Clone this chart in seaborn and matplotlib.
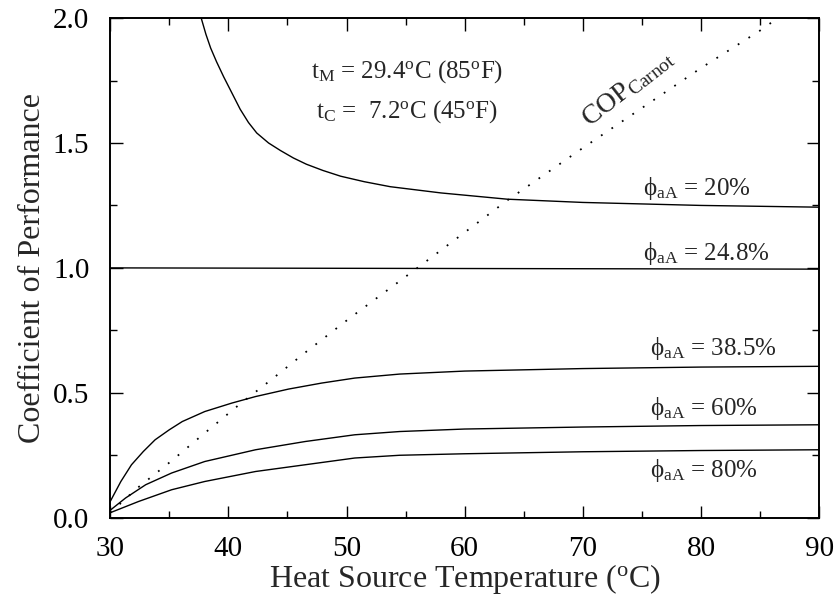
import matplotlib
matplotlib.use("Agg")
import matplotlib.pyplot as plt
import seaborn as sns
import pandas as pd

# Temperatures (deg C) and COP values
T_20 = [37.7, 38.1, 38.5, 39.0, 39.6, 40.3, 41.0, 41.7, 42.4, 43.4, 44.4, 45.5, 46.6,
        48.0, 49.5, 51.5, 53.7, 58, 63.6, 70, 80, 90]
COP_20 = [2.0, 1.935, 1.88, 1.825, 1.765, 1.70, 1.635, 1.582, 1.54, 1.50, 1.47, 1.44, 1.415,
          1.39, 1.367, 1.345, 1.325, 1.30, 1.275, 1.262, 1.25, 1.243]

T_248 = [30, 90]
COP_248 = [1.0, 0.995]

T_385 = [30, 30.9, 31.8, 32.8, 33.8, 35.0, 36.1, 38.0, 40.3, 42.3, 45.1, 47.9, 50.7,
         54.5, 60, 70, 80, 90]
COP_385 = [0.065, 0.145, 0.212, 0.265, 0.312, 0.352, 0.385, 0.425, 0.459, 0.485, 0.515,
           0.539, 0.559, 0.575, 0.587, 0.597, 0.603, 0.606]

T_60 = [30, 31.3, 33.0, 35.2, 38.0, 42.3, 46.5, 50.7, 54.5, 60, 70, 80, 90]
COP_60 = [0.03, 0.079, 0.132, 0.179, 0.225, 0.272, 0.305, 0.332, 0.345, 0.355, 0.363, 0.369, 0.372]

T_80 = [30, 32.4, 35.2, 38.0, 42.3, 46.5, 50.7, 54.5, 60, 70, 80, 90]
COP_80 = [0.02, 0.065, 0.112, 0.145, 0.185, 0.212, 0.239, 0.25, 0.256, 0.264, 0.269, 0.272]

T_CARNOT = [30, 32.3, 35.2, 38, 40.9, 43.7, 46.5, 50.3, 56, 63.6, 70, 80, 85, 88]
COP_CARNOT = [0.02, 0.119, 0.228, 0.339, 0.452, 0.555, 0.661, 0.80, 1.0, 1.27, 1.48, 1.80, 1.95, 2.05]

CURVE_LABELS = [r"$\phi_{aA}$ = 20%", r"$\phi_{aA}$ = 24.8%", r"$\phi_{aA}$ = 38.5%",
                r"$\phi_{aA}$ = 60%", r"$\phi_{aA}$ = 80%"]
LABEL_POS = [(75.1, 1.29), (75.1, 1.03), (75.7, 0.652), (75.7, 0.412), (75.7, 0.164)]

sns.set_theme(style="ticks")
plt.rcParams["font.family"] = ["Liberation Serif", "DejaVu Serif"]
plt.rcParams["mathtext.fontset"] = "custom"
plt.rcParams["mathtext.rm"] = "Liberation Serif"
plt.rcParams["mathtext.it"] = "Liberation Serif:italic"
plt.rcParams["mathtext.default"] = "regular"

fig = plt.figure(figsize=(8.35, 6.02), dpi=100)
ax = fig.add_axes([0.132, 0.140, 0.849, 0.830])

curves = [(T_20, COP_20), (T_248, COP_248), (T_385, COP_385), (T_60, COP_60), (T_80, COP_80)]
for x, y in curves:
    df = pd.DataFrame({"T": x, "COP": y})
    sns.lineplot(data=df, x="T", y="COP", ax=ax, color="black", linewidth=1.0, sort=False)

carnot = pd.DataFrame({"T": T_CARNOT, "COP": COP_CARNOT})
sns.lineplot(data=carnot, x="T", y="COP", ax=ax, color="black", linewidth=1.3,
             linestyle=(0, (1, 6)), sort=False)

ax.set_xlim(30, 90)
ax.set_ylim(0, 2.0)
ax.set_xticks(range(30, 91, 10))
ax.set_xticks(range(35, 90, 10), minor=True)
ax.set_yticks([0, 0.5, 1.0, 1.5, 2.0])
ax.set_yticks([0.25, 0.75, 1.25, 1.75], minor=True)
ax.set_yticklabels(["0.0", "0.5", "1.0", "1.5", "2.0"])
ax.tick_params(which="both", direction="in", top=True, right=True, colors="black",
               labelsize=21, width=1.0)
ax.tick_params(axis="x", which="major", pad=13)
ax.tick_params(axis="y", which="major", pad=15)
ax.tick_params(which="major", length=9)
ax.tick_params(which="minor", length=5)
for s in ax.spines.values():
    s.set_color("black")
    s.set_linewidth(1.4)

ax.set_xlabel(r"Heat Source Temperature ($^{\rm o}$C)", fontsize=23, labelpad=0)
ax.set_ylabel("Coefficient of Performance", fontsize=23, labelpad=4)

for txt, (x, y) in zip(CURVE_LABELS, LABEL_POS):
    ax.text(x, y, txt, fontsize=18, va="baseline", ha="left")

ax.text(47.0, 1.76, r"t$_M$ = 29.4$^{\rm o}$C (85$^{\rm o}$F)", fontsize=18, va="baseline")
ax.text(47.4, 1.60, r"t$_C$ =  7.2$^{\rm o}$C (45$^{\rm o}$F)", fontsize=18, va="baseline")
ax.text(73.8, 1.72, r"COP$_{\rm Carnot}$", fontsize=20, rotation=38, ha="center", va="center")

fig.savefig("out.png", dpi=100)
